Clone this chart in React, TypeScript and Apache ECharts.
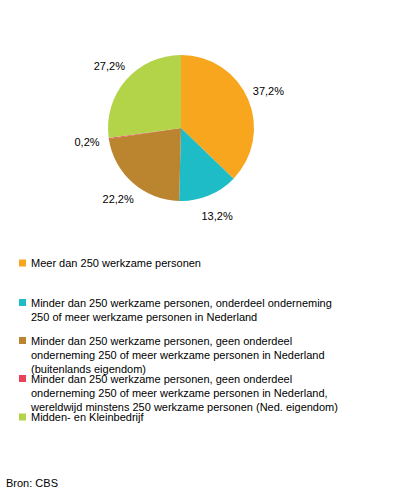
import React, { useEffect, useRef } from "react";
import * as echarts from "echarts";

const categories = [
  "Meer dan 250 werkzame personen",
  "Minder dan 250 werkzame personen, onderdeel onderneming 250 of meer werkzame personen in Nederland",
  "Minder dan 250 werkzame personen, geen onderdeel onderneming 250 of meer werkzame personen in Nederland (buitenlands eigendom)",
  "Minder dan 250 werkzame personen, geen onderdeel onderneming 250 of meer werkzame personen in Nederland, wereldwijd minstens 250 werkzame personen (Ned. eigendom)",
  "Midden- en Kleinbedrijf",
];

const legendLines = [
  ["Meer dan 250 werkzame personen"],
  ["Minder dan 250 werkzame personen, onderdeel onderneming", "250 of meer werkzame personen in Nederland"],
  ["Minder dan 250 werkzame personen, geen onderdeel", "onderneming 250 of meer werkzame personen in Nederland", "(buitenlands eigendom)"],
  ["Minder dan 250 werkzame personen, geen onderdeel", "onderneming 250 of meer werkzame personen in Nederland,", "wereldwijd minstens 250 werkzame personen (Ned. eigendom)"],
  ["Midden- en Kleinbedrijf"],
];

const values = [37.2, 13.2, 22.2, 0.2, 27.2];

const colors = ["#F7A61E", "#1EBCC6", "#BB842F", "#E9435A", "#B3D349"];

const legendIconCenters = [263, 302.5, 340.5, 378.5, 417];

const FONT = "'Liberation Sans', Arial, sans-serif";
const LINE_H = 14;

export default function App() {
  const ref = useRef<HTMLDivElement>(null);

  useEffect(() => {
    document.body.style.margin = "0";
    if (!ref.current) return;
    const chart = echarts.init(ref.current, undefined, { renderer: "svg" });

    const data = categories.map((name, i) => ({
      name,
      value: values[i],
      itemStyle: { color: colors[i] },
    }));

    const legends = categories.map((name, i) => {
      const n = legendLines[i].length;
      // blank lines before the text keep the first line level with the icon
      const text = new Array(n - 1).fill(" ").concat(legendLines[i]).join("\n");
      return {
        show: true,
        orient: "vertical" as const,
        left: 19,
        top: legendIconCenters[i] - LINE_H * n + 7,
        padding: 0,
        icon: "rect",
        itemWidth: 7,
        itemHeight: 7,
        selectedMode: false,
        data: [name],
        formatter: () => text,
        textStyle: {
          fontFamily: FONT,
          fontSize: 11,
          color: "#000",
          lineHeight: LINE_H,
        },
      };
    });

    const fmt = (p: any) => p.value.toFixed(1).replace(".", ",") + "%";

    chart.setOption({
      animation: false,
      backgroundColor: "#fff",
      title: {
        text: "Bron: CBS",
        left: 6,
        top: 477,
        padding: 0,
        textStyle: { fontFamily: FONT, fontSize: 11, fontWeight: "normal", color: "#000" },
      },
      legend: legends,
      series: [
        {
          type: "pie",
          center: [181, 128],
          radius: [0, 73],
          startAngle: 90,
          clockwise: true,
          data,
          label: { show: false },
          labelLine: { show: false },
          emphasis: { disabled: true },
          silent: true,
        },
        {
          type: "pie",
          center: [181, 128],
          radius: [84, 100],
          startAngle: 90,
          clockwise: true,
          data: data.map((d) => ({ name: d.name, value: d.value, itemStyle: { color: "rgba(0,0,0,0)" } })),
          label: {
            show: true,
            position: "inside",
            formatter: fmt,
            fontFamily: FONT,
            fontSize: 11,
            color: "#000",
            textBorderWidth: 0,
          },
          labelLine: { show: false },
          emphasis: { disabled: true },
          silent: true,
        },
      ],
    });

    return () => chart.dispose();
  }, []);

  return <div ref={ref} style={{ width: 396, height: 500 }} />;
}
